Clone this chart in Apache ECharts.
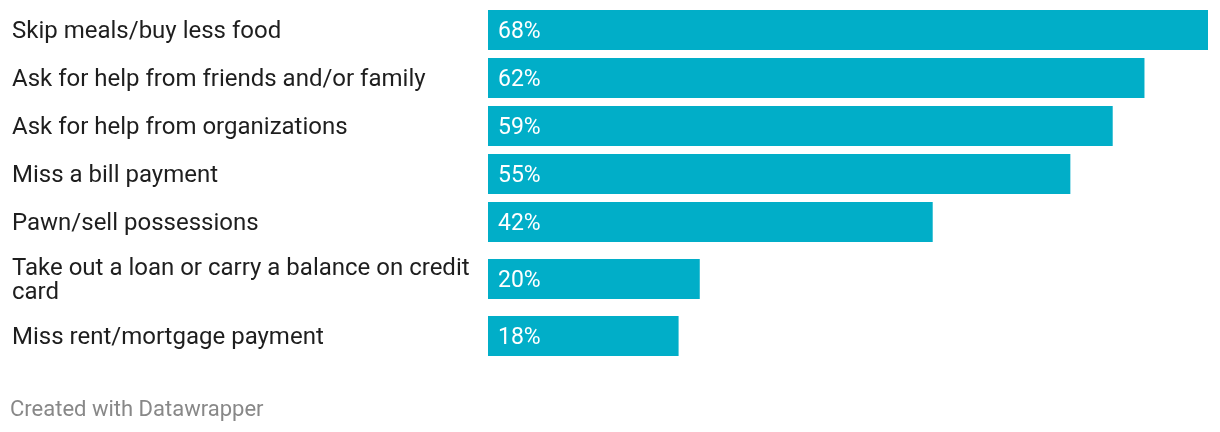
<!DOCTYPE html>
<html>
<head>
<meta charset="utf-8">
<style>html,body{margin:0;padding:0;background:#fff;}#chart{width:1220px;height:432px;}</style>
<script src="https://cdn.jsdelivr.net/npm/echarts@6/dist/echarts.min.js"></script>
</head>
<body>
<div id="chart"></div>
<script>
const categories = [
  'Skip meals/buy less food',
  'Ask for help from friends and/or family',
  'Ask for help from organizations',
  'Miss a bill payment',
  'Pawn/sell possessions',
  'Take out a loan or carry a balance on credit card',
  'Miss rent/mortgage payment'
];
const values = [68, 62, 59, 55, 42, 20, 18];
const footerText = 'Created with Datawrapper';

const FONT = 'Roboto, "Noto Sans", sans-serif';
const LABEL_SIZE = 24, VALUE_SIZE = 23, LINE_H = 28, LABEL_W = 466;
const BAR_H = 40, GAP = 8, PLOT_LEFT = 488, PLOT_W = 720;
const BAR_COLOR = '#01aec8';

const cv = document.createElement('canvas').getContext('2d');
cv.font = LABEL_SIZE + 'px Roboto';
function lineCount(t) {
  const words = t.split(' ');
  let lines = 1, cur = '';
  for (const w of words) {
    const test = cur ? cur + ' ' + w : w;
    if (cv.measureText(test).width > LABEL_W && cur) { lines++; cur = w; } else cur = test;
  }
  return lines;
}

const grids = [], xAxes = [], yAxes = [], series = [];
const maxV = Math.max(...values);
let y = 10;
categories.forEach((c, i) => {
  const lines = lineCount(c);
  const rowH = lines > 1 ? lines * LINE_H + 2 : BAR_H;
  const barTop = y + (rowH - BAR_H) / 2;
  grids.push({ left: PLOT_LEFT, width: PLOT_W, top: barTop, height: BAR_H });
  xAxes.push({ type: 'value', gridIndex: i, min: 0, max: maxV, show: false });
  yAxes.push({
    type: 'category', gridIndex: i, data: [c],
    axisLine: { show: false }, axisTick: { show: false }, splitLine: { show: false },
    axisLabel: {
      margin: PLOT_LEFT - 12, align: 'left', fontSize: LABEL_SIZE, fontFamily: FONT,
      color: '#1e1e1e', width: LABEL_W, overflow: 'break',
      formatter: v => '{t|' + v + '}',
      rich: { t: { fontSize: LABEL_SIZE, fontFamily: FONT, color: '#1e1e1e', lineHeight: LINE_H - 4, padding: [4, 0, 0, 0] } }
    }
  });
  series.push({
    type: 'bar', xAxisIndex: i, yAxisIndex: i, data: [values[i]],
    barWidth: BAR_H, itemStyle: { color: BAR_COLOR }, silent: true,
    label: {
      show: true, position: 'insideLeft', distance: 10, formatter: '{c}%',
      offset: [0, 2],
      color: '#ffffff', fontSize: VALUE_SIZE, fontFamily: FONT
    }
  });
  y += rowH + GAP;
});

const chart = echarts.init(document.getElementById('chart'), null, { renderer: 'canvas' });
chart.setOption({
  animation: false,
  backgroundColor: '#ffffff',
  grid: grids, xAxis: xAxes, yAxis: yAxes, series: series,
  graphic: [{
    type: 'text', left: 10, top: 399,
    style: { text: footerText, fontSize: 22, fontFamily: FONT, fill: '#888888' }
  }]
});
</script>
</body>
</html>
